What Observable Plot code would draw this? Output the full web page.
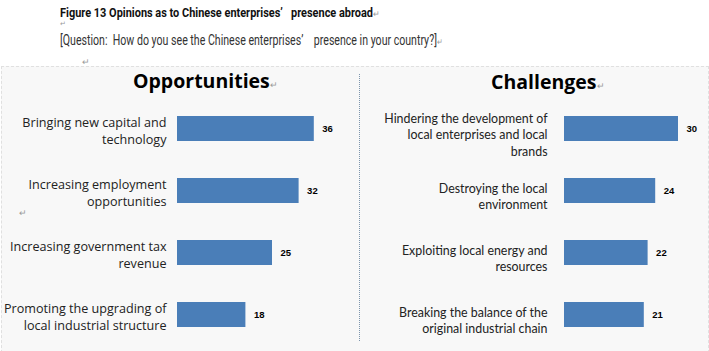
<!DOCTYPE html>
<html>
<head>
<meta charset="utf-8">
<script src="https://cdn.jsdelivr.net/npm/d3@7"></script>
<script src="https://cdn.jsdelivr.net/npm/@observablehq/plot@0.6"></script>
<style>
  html, body { margin: 0; padding: 0; background: #fff; }
  #page { position: relative; width: 709px; height: 351px; overflow: hidden; font-family: "Open Sans", sans-serif; }
  .abs { position: absolute; white-space: pre; line-height: 1; }
  .mark { color: #9a9a9a; font-size: 9px; font-weight: normal; }
  #panel { position: absolute; left: 1px; top: 66px; width: 706px; height: 290px; background: #f8f8f8; border: 1px dashed #e0e0e0; }
  #divider { position: absolute; left: 359px; top: 74px; height: 267px; border-left: 1px dotted #7d95ad; }
  .ptitle { font-family: "Open Sans", sans-serif; font-weight: 700; font-size: 19.5px; color: #000; }
  .fit { transform-origin: 0 0; }
  svg { overflow: visible; }
</style>
</head>
<body>
<div id="page">
  <div id="fig" class="abs fit" data-w="320" style="left:60px; top:7px; font-family:Roboto,sans-serif; font-size:12.5px; font-weight:700; color:#111;">Figure 13 Opinions as to Chinese enterprises’&nbsp;&nbsp; presence abroad<span class="mark">↵</span></div>
  <div class="abs mark" style="left:60px; top:20px; font-size:7px;">↵</div>
  <div id="q" class="abs fit" data-w="383" style="left:60px; top:33px; font-family:Roboto,sans-serif; font-size:14px; color:#333;">[Question:&nbsp; How do you see the Chinese enterprises’&nbsp;&nbsp;&nbsp; presence in your country?]<span class="mark">↵</span></div>
  <div class="abs mark" style="left:82px; top:57px;">↵</div>
  <div id="panel"></div>
  <div id="divider"></div>
  <div class="abs ptitle" style="left:133px; top:71px;">Opportunities<span class="mark">↵</span></div>
  <div class="abs ptitle" style="left:491px; top:72px;">Challenges<span class="mark">↵</span></div>
  <div class="abs mark" style="left:19px; top:208px;">↵</div>
  <div id="left" class="abs" style="left:0px; top:66px;"></div>
  <div id="right" class="abs" style="left:359px; top:66px;"></div>
</div>
<script>
// ---- data ----
const oppCategories = [
  "Bringing new capital and\ntechnology",
  "Increasing employment\nopportunities",
  "Increasing government tax\nrevenue",
  "Promoting the upgrading of\nlocal industrial structure"
];
const oppValues = [36, 32, 25, 18];

const chalCategories = [
  "Hindering the development of\nlocal enterprises and local\nbrands",
  "Destroying the local\nenvironment",
  "Exploiting local energy and\nresources",
  "Breaking the balance of the\noriginal industrial chain"
];
const chalValues = [30, 24, 22, 21];

const barColor = "#4a7eb8";

// squeeze header lines horizontally to the reference width
for (const el of document.querySelectorAll(".fit")) {
  const target = +el.dataset.w;
  const w = el.getBoundingClientRect().width;
  if (w > 0) el.style.transform = `scaleX(${target / w})`;
}

function panel({categories, values, width, marginLeft, marginRight, xMax, marginTop, labelFont, labelSize, labelDy, tickPadding, lineHeight}) {
  const data = categories.map((c, i) => ({category: c, value: values[i]}));
  return Plot.plot({
    width,
    height: 285,
    marginLeft,
    marginRight,
    marginTop,
    marginBottom: 11.7,
    style: {background: "transparent", overflow: "visible"},
    x: {domain: [0, xMax], axis: null},
    y: {domain: categories, paddingInner: 0.6, paddingOuter: 0.2, label: null, axis: null},
    marks: [
      Plot.barX(data, {x: "value", y: "category", fill: barColor}),
      Plot.text(data, {
        x: "value", y: "category", text: d => String(d.value),
        dx: 8, textAnchor: "start", fontSize: 9.5, fontWeight: "bold",
        fontFamily: "'Liberation Sans', Arial, sans-serif", fill: "#000"
      }),
      Plot.axisY({
        tickSize: 0, tickPadding, fontSize: labelSize, fontFamily: labelFont,
        lineHeight, fill: "#222", dy: labelDy, label: null
      })
    ]
  });
}

document.getElementById("left").append(panel({
  categories: oppCategories, values: oppValues,
  width: 359, marginLeft: 177, marginRight: 30, xMax: 40, marginTop: 36.6,
  labelFont: "'Open Sans', sans-serif", labelSize: 12.6, labelDy: 1, tickPadding: 11, lineHeight: 1.32
}));

document.getElementById("right").append(panel({
  categories: chalCategories, values: chalValues,
  width: 350, marginLeft: 205, marginRight: 12, xMax: 35, marginTop: 37.6,
  labelFont: "Lato, sans-serif", labelSize: 12.4, labelDy: 5, tickPadding: 17, lineHeight: 1.32
}));
</script>
</body>
</html>
